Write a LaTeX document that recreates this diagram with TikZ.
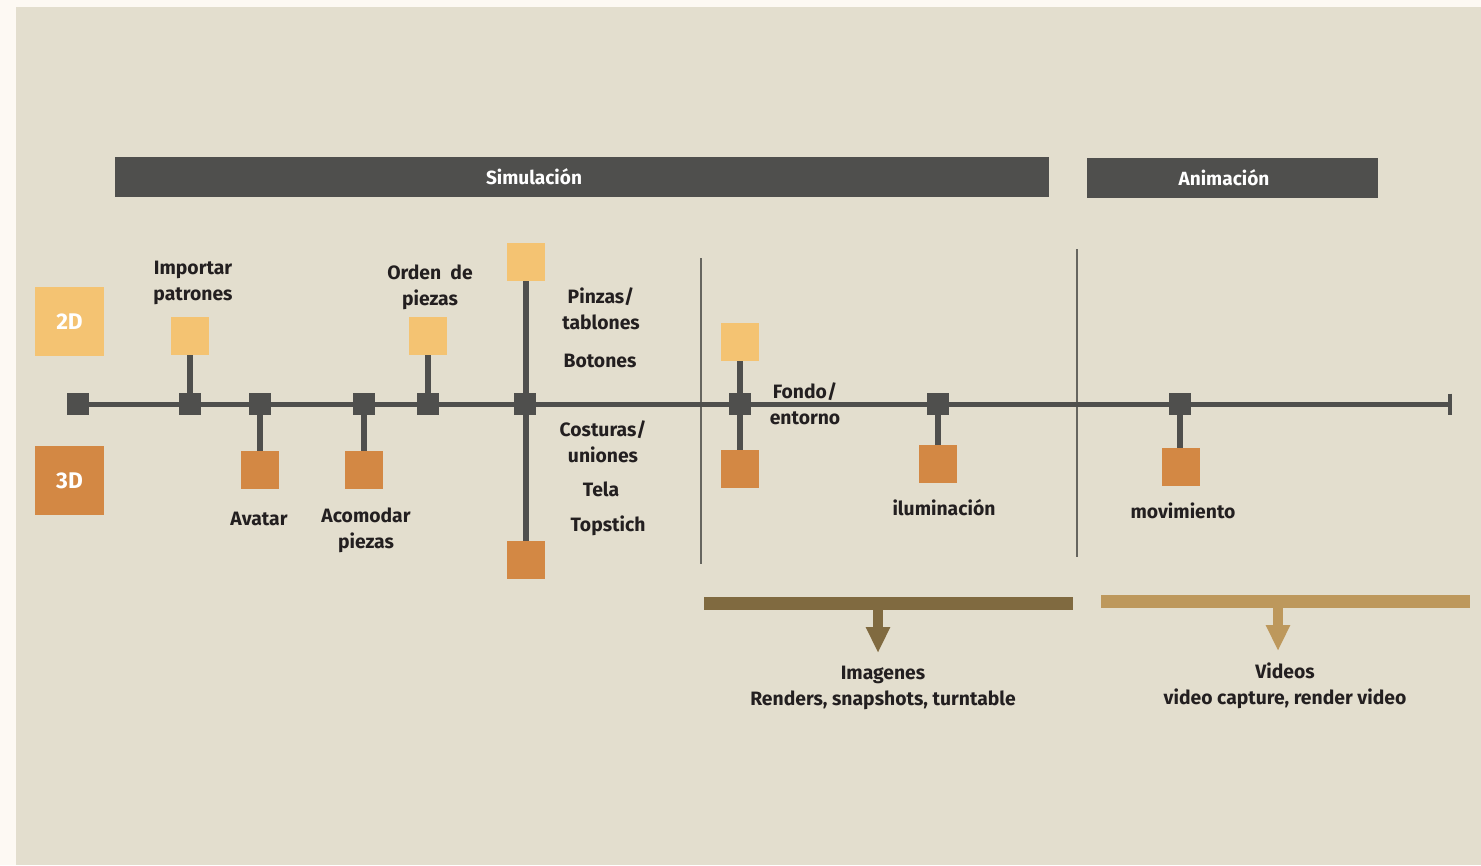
\documentclass[tikz,border=0pt]{standalone}
\usepackage{fontspec}
\setmainfont{Fira Sans}
\usetikzlibrary{arrows.meta,calc}
\definecolor{bgout}{HTML}{FDF9F3}
\definecolor{bg}{HTML}{E3DECE}
\definecolor{dark}{HTML}{4F4F4D}
\definecolor{c2d}{HTML}{F4C372}
\definecolor{c3d}{HTML}{D38844}
\definecolor{txt}{HTML}{231F20}
\definecolor{brA}{HTML}{806A40}
\definecolor{brB}{HTML}{BD985C}
\definecolor{sep}{HTML}{66655F}
\begin{document}
\begin{tikzpicture}[x=0.75pt,y=-0.75pt,
 dsq/.style={fill=dark,minimum size=16.5pt,inner sep=0,outer sep=0},
 sqa/.style={fill=c2d,minimum size=28.5pt,inner sep=0,outer sep=0},
 sqb/.style={fill=c3d,minimum size=28.5pt,inner sep=0,outer sep=0},
 leg/.style={minimum size=51.75pt,inner sep=0,text=white,font=\fontsize{17}{17}\selectfont\bfseries},
 lbl/.style={text=txt,font=\fontsize{14.5}{19.5}\selectfont\bfseries,align=center,inner sep=0},
 bartxt/.style={text=white,font=\fontsize{14.3}{16}\selectfont\bfseries,inner sep=0},
 darkbar/.style={fill=dark,inner sep=0,outer sep=0,minimum height=30pt},
 mainline/.style={draw=dark,line width=3.75pt},
 stem/.style={draw=dark,line width=4.5pt},
 sepline/.style={draw=sep,line width=1.5pt},
 outA/.style={draw=brA,line width=8pt,-{Triangle[length=19.5pt,width=17pt]}},
 outB/.style={draw=brB,line width=8pt,-{Triangle[length=19.5pt,width=17pt]}},
]
\useasboundingbox (0,0) rectangle (1481,865);
\fill[bgout] (0,0) rectangle (1481,865);
\fill[bg] (16,7) rectangle (1481,865);

% headers
\node[darkbar,minimum width=700.5pt] (sim) at (582,177) {};
\node[bartxt] (simt) at (534,177) {Simulación};
\node[darkbar,minimum width=218.25pt] (ani) at (1232.5,178) {};
\node[bartxt] (anit) at (1224,178) {Animación};

% legend
\node[leg,fill=c2d] (l2d) at (69.5,321.5) {2D};
\node[leg,fill=c3d] (l3d) at (69.5,480.5) {3D};

% separators
\coordinate (sepAt) at (701,258);
\coordinate (sepAb) at (701,564);
\coordinate (sepBt) at (1077,249);
\coordinate (sepBb) at (1077,557);
\draw[sepline] (sepAt) -- (sepAb);
\draw[sepline] (sepBt) -- (sepBb);

% main line
\coordinate (end) at (1450,404);
\draw[mainline] (78,404) -- (end);
\draw[draw=dark,line width=3pt] ($(end)+(0,-10.5)$) -- ($(end)+(0,10.5)$);

% timeline nodes
\node[dsq] (n0) at (78,404) {};
\node[dsq] (n1) at (190,404) {};
\node[dsq] (n2) at (260,404) {};
\node[dsq] (n3) at (364,404) {};
\node[dsq] (n4) at (428,404) {};
\node[dsq] (n5) at (525,404) {};
\node[dsq] (n6) at (740,404) {};
\node[dsq] (n7) at (938,404) {};
\node[dsq] (n8) at (1180,404) {};

% squares
\node[sqa] (s1) at (190,336) {};
\node[sqb] (s2) at (260,470) {};
\node[sqb] (s3) at (364,470) {};
\node[sqa] (s4) at (428,336) {};
\node[sqa] (s5a) at (526,262) {};
\node[sqb] (s5b) at (526,560) {};
\node[sqa] (s6a) at (740,342) {};
\node[sqb] (s6b) at (740,469) {};
\node[sqb] (s7) at (938,464) {};
\node[sqb] (s8) at (1181,467) {};

% stems
\draw[stem] (s1.south) -- (n1.north);
\draw[stem] (n2.south) -- (s2.north);
\draw[stem] (n3.south) -- (s3.north);
\draw[stem] (s4.south) -- (n4.north);
\draw[stem] (s5a.south) -- (s5b.north);
\draw[stem] (s6a.south) -- (s6b.north);
\draw[stem] (n7.south) -- (s7.north);
\draw[stem] (n8.south) -- (n8.south |- s8.north);
\node[dsq] at (n5) {};
\node[dsq] at (n6) {};

% labels
\node[lbl] (t1) at (193,283) {Importar\\patrones};
\node[lbl] (t2) at (259,519) {Avatar};
\node[lbl] (t3) at (366,530) {Acomodar\\piezas};
\node[lbl] (t4) at (430,287) {Orden\ \ de\\piezas};
\node[lbl] (t5) at (601,309) {Pinzas/\\tablones};
\node[lbl] (t6) at (600,361) {Botones};
\node[lbl] (t7) at (603,442) {Costuras/\\uniones};
\node[lbl] (t8) at (601,489) {Tela};
\node[lbl] (t9) at (608,526) {Topstich};
\node[lbl] (t10) at (805,404) {Fondo/\\entorno};
\node[lbl] (t11) at (944,508) {iluminación};
\node[lbl] (t12) at (1183,511) {movimiento};

% outputs
\node[fill=brA,minimum width=276.75pt,minimum height=9.75pt,inner sep=0,outer sep=0] (barA) at (888.5,603) {};
\node[fill=brB,minimum width=276.75pt,minimum height=9.75pt,inner sep=0,outer sep=0] (barB) at (1285.5,601) {};
\coordinate (tipA) at (878,653);
\coordinate (tipB) at (1278,651);
\draw[outA] (barA.south -| tipA) -- (tipA);
\draw[outB] (barB.south -| tipB) -- (tipB);
\node[lbl] (oA) at (883,688) {Imagenes\\Renders, snapshots, turntable};
\node[lbl] (oB) at (1285,686) {Videos\\video capture, render video};
\end{tikzpicture}
\end{document}
